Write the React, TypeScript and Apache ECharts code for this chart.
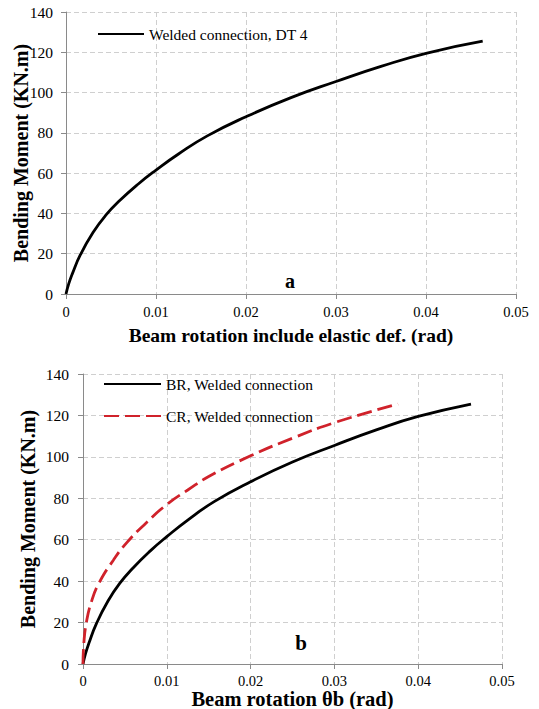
import { useEffect, useRef } from "react";
import * as echarts from "echarts";

// BR curve (panel a and panel b, black solid)
const brX = [0, 0.0003, 0.0007, 0.0016, 0.003, 0.0044, 0.006, 0.008, 0.010, 0.0125, 0.0157, 0.020, 0.025, 0.030, 0.035, 0.040, 0.0463];
const brY = [0, 5, 10, 19.5, 30.5, 39, 46.5, 54.5, 61.5, 69.5, 78.5, 88, 97.5, 105.5, 113, 119.5, 125.5];

// CR curve (panel b, red dashed)
const crX = [0, 0.0001, 0.0004, 0.001, 0.0019, 0.0036, 0.0052, 0.0075, 0.010, 0.0125, 0.015, 0.020, 0.025, 0.030, 0.0376];
const crY = [0, 10, 20, 30, 39, 50, 58.5, 68, 77, 84, 90.5, 100.5, 109, 116.5, 125.5];

const xMin = 0;
const xMax = 0.05;
const xStep = 0.01;
const yMin = 0;
const yMax = 140;
const yStep = 20;

const nameA = "Welded connection, DT 4";
const nameBR = "BR, Welded connection";
const nameCR = "CR, Welded connection";

const FONT = "Liberation Serif";

const pairs = (xs: number[], ys: number[]) => xs.map((x, i) => [x, ys[i]]);

export default function App() {
  const ref = useRef<HTMLDivElement>(null);
  useEffect(() => {
    document.body.style.margin = "0";
    const chart = echarts.init(ref.current!, null, { renderer: "svg" });
    const axisLine = { show: true, lineStyle: { color: "#8a8a8a", width: 1 } };
    const splitLine = { show: true, lineStyle: { color: "#cfcfcf", type: [5, 3], width: 1 } };
    const xAxisBase = (gridIndex: number, name: string, nameGap: number, nameSize: number, margin: number) => ({
      type: "value",
      gridIndex,
      min: xMin,
      max: xMax,
      interval: xStep,
      name,
      nameLocation: "middle",
      nameGap,
      nameMoveOverlap: false,
      nameTextStyle: { fontFamily: FONT, fontWeight: "bold", fontSize: nameSize, color: "#000" },
      axisLine,
      axisTick: { show: true, inside: false, length: 5, lineStyle: { color: "#8a8a8a" } },
      axisLabel: { fontFamily: FONT, fontSize: 14.5, color: "#000", margin },
      splitLine,
    });
    const yAxisBase = (gridIndex: number, nameGap: number, margin: number) => ({
      type: "value",
      gridIndex,
      min: yMin,
      max: yMax,
      interval: yStep,
      name: "Bending Moment (KN.m)",
      nameLocation: "middle",
      nameGap,
      nameRotate: 90,
      nameMoveOverlap: false,
      nameTextStyle: { fontFamily: FONT, fontWeight: "bold", fontSize: 20, color: "#000" },
      axisLine,
      axisTick: { show: true, inside: false, length: 5, lineStyle: { color: "#8a8a8a" } },
      axisLabel: { fontFamily: FONT, fontSize: 15.5, color: "#000", margin },
      splitLine,
    });
    const legendText = { fontFamily: FONT, fontSize: 15.5, color: "#000" };
    chart.setOption({
      animation: false,
      backgroundColor: "#fff",
      textStyle: { fontFamily: FONT },
      grid: [
        { left: 66, top: 12, width: 450, height: 282, outerBoundsMode: "none", containLabel: false },
        { left: 83, top: 374, width: 419, height: 290, outerBoundsMode: "none", containLabel: false },
      ],
      xAxis: [
        xAxisBase(0, "Beam rotation include elastic def. (rad)", 31, 19.5, 10),
        xAxisBase(1, "Beam rotation θb (rad)", 24, 20.5, 9),
      ],
      yAxis: [yAxisBase(0, 35.5, 13), yAxisBase(1, 45, 14)],
      legend: [
        {
          data: [nameA],
          left: 97,
          top: 26,
          padding: 0,
          orient: "vertical",
          itemWidth: 46,
          itemHeight: 14,
          itemStyle: { opacity: 0 },
          textStyle: legendText,
        },
        {
          data: [nameBR, nameCR],
          left: 103,
          top: 376,
          padding: 0,
          orient: "vertical",
          itemWidth: 57,
          itemHeight: 14,
          itemGap: 16,
          itemStyle: { opacity: 0 },
          textStyle: legendText,
        },
      ],
      graphic: [
        {
          type: "text",
          x: 290,
          y: 281,
          style: { text: "a", font: `bold 20px ${FONT}`, fill: "#000", align: "center", verticalAlign: "middle" },
        },
        {
          type: "text",
          x: 301,
          y: 643,
          style: { text: "b", font: `bold 21px ${FONT}`, fill: "#000", align: "center", verticalAlign: "middle" },
        },
      ],
      series: [
        {
          name: nameA,
          type: "line",
          xAxisIndex: 0,
          yAxisIndex: 0,
          data: pairs(brX, brY),
          smooth: 0.5,
          symbol: "none",
          lineStyle: { color: "#000", width: 2.8 },
          itemStyle: { color: "#000" },
        },
        {
          name: nameBR,
          type: "line",
          xAxisIndex: 1,
          yAxisIndex: 1,
          data: pairs(brX, brY),
          smooth: 0.5,
          symbol: "none",
          lineStyle: { color: "#000", width: 2.8 },
          itemStyle: { color: "#000" },
        },
        {
          name: nameCR,
          type: "line",
          xAxisIndex: 1,
          yAxisIndex: 1,
          data: pairs(crX, crY),
          smooth: 0.5,
          symbol: "none",
          lineStyle: { color: "#d0222b", width: 2.8, type: [15, 6] },
          itemStyle: { color: "#d0222b" },
        },
      ],
    });
    return () => chart.dispose();
  }, []);
  return <div ref={ref} style={{ width: 539, height: 709 }} />;
}
